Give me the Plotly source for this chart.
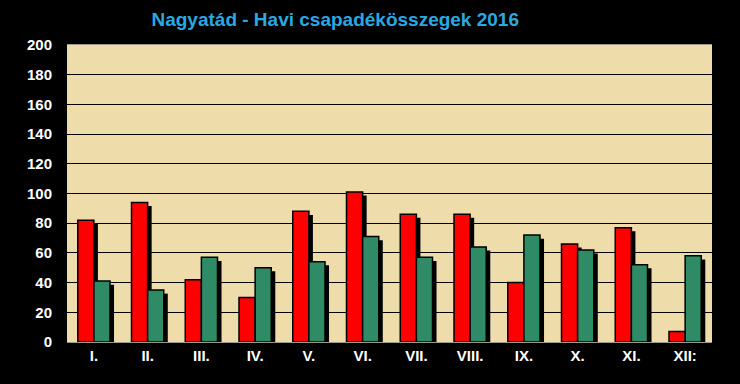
import plotly.graph_objects as go

months = ["I.", "II.", "III.", "IV.", "V.", "VI.", "VII.", "VIII.", "IX.", "X.", "XI.", "XII:"]
rain_2016 = [82, 94, 42, 30, 88, 101, 86, 86, 40, 66, 77, 7]
rain_avg = [41, 35, 57, 50, 54, 71, 57, 64, 72, 62, 52, 58]
y_ticks = list(range(0, 201, 20))

xs = list(range(len(months)))
bw = 0.3
sx = 0.075   # shadow shift (category units)
sy = 2.4     # shadow drop (value units)

fig = go.Figure()

def add_series(vals, offset, color):
    fig.add_trace(go.Bar(
        x=[i + offset + sx for i in xs], y=[max(v - sy, 0) for v in vals], width=bw,
        marker=dict(color="black", line=dict(width=0)), hoverinfo="skip", showlegend=False))
    fig.add_trace(go.Bar(
        x=[i + offset for i in xs], y=vals, width=bw,
        marker=dict(color=color, line=dict(color="black", width=1.5)), showlegend=False))

add_series(rain_2016, -bw / 2, "#FF0000")
add_series(rain_avg, bw / 2, "#2E8B65")

fig.update_layout(
    width=740, height=384,
    paper_bgcolor="black", plot_bgcolor="#EEDCAB",
    barmode="overlay",
    margin=dict(l=67, r=28, t=45, b=42),
    title=dict(text="<b>Nagyatád - Havi csapadékösszegek 2016</b>",
               x=0.453, xanchor="center", y=0.95, yanchor="middle",
               font=dict(family="Liberation Sans, Arial", size=19, color="#29A9E0")),
    font=dict(family="Liberation Sans, Arial", color="white"),
)
fig.update_xaxes(
    range=[-0.5, len(months) - 0.5], tickmode="array", tickvals=xs,
    ticktext=["<b>%s</b>" % m for m in months], tickfont=dict(size=15, color="white"),
    showgrid=False, zeroline=False, ticks="", showline=True, linecolor="#9a9a8a", linewidth=1,
    mirror=True,
)
fig.update_yaxes(
    range=[0, 200], tickmode="array", tickvals=y_ticks,
    ticktext=["<b>%d</b>" % t for t in y_ticks], tickfont=dict(size=15, color="white"),
    showgrid=True, gridcolor="black", gridwidth=1, zeroline=False, ticks="",
    ticklabelstandoff=14,
)
fig.write_html("out.html", config={"displayModeBar": False},
               post_script="document.body.style.margin='0';document.body.style.background='black';")
